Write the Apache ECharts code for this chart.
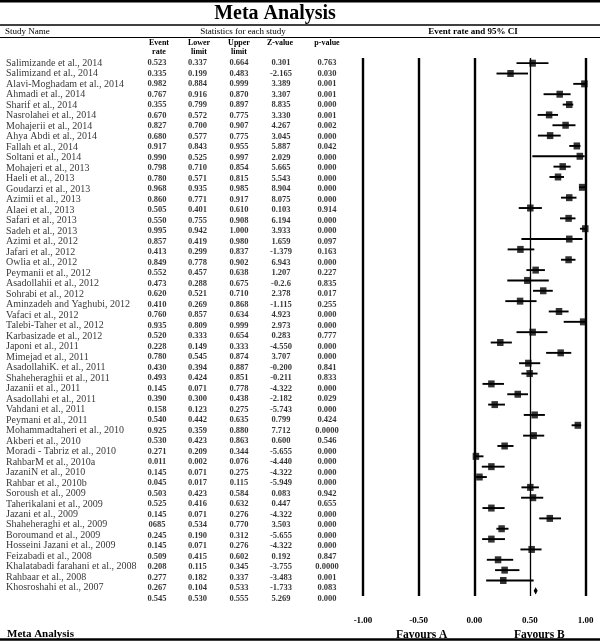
<!DOCTYPE html>
<html><head><meta charset="utf-8">
<script src="https://cdn.jsdelivr.net/npm/echarts@6/dist/echarts.min.js"></script>
<style>html,body{margin:0;padding:0;background:#fff}#c{width:600px;height:643px}</style>
</head><body><div id="c"></div>
<script>
const studies = ["Salimizande et al., 2014","Salimizand et al., 2014","Alavi-Moghadam et al., 2014","Ahmadi et al., 2014","Sharif et al., 2014","Nasrolahei et al., 2014","Mohajerii et al., 2014","Ahya Abdi et al., 2014","Fallah et al., 2014","Soltani et al., 2014","Mohajeri et al., 2013","Haeli et al., 2013","Goudarzi et al., 2013","Azimii et al., 2013","Alaei et al., 2013","Safari et al., 2013","Sadeh et al., 2013","Azimi et al., 2012","Jafari et al., 2012","Owlia et al., 2012","Peymanii et al., 2012","Asadollahii et al., 2012","Sohrabi et al., 2012","Aminzadeh and Yaghubi, 2012","Vafaci et al., 2012","Talebi-Taher et al., 2012","Karbasizade et al., 2012","Japoni et al., 2011","Mimejad et al., 2011","AsadollahiK. et al., 2011","Shaheheraghii et al., 2011","Jazanii et al., 2011","Asadollahi et al., 2011","Vahdani et al., 2011","Peymani et al., 2011","Mohammadtaheri et al., 2010","Akberi et al., 2010","Moradi - Tabriz et al., 2010","RahbarM et al., 2010a","JazaniN et al., 2010","Rahbar et al., 2010b","Soroush et al., 2009","Taherikalani et al., 2009","Jazani et al., 2009","Shaheheraghi et al., 2009","Boroumand et al., 2009","Hosseini Jazani et al., 2009","Feizabadi et al., 2008","Khalatabadi farahani et al., 2008","Rahbaar et al., 2008","Khosroshahi et al., 2007"];
// table text (last entry = overall)
const eventRateTxt = ["0.523","0.335","0.982","0.767","0.355","0.670","0.827","0.680","0.917","0.990","0.798","0.780","0.968","0.860","0.505","0.550","0.995","0.857","0.413","0.849","0.552","0.473","0.620","0.410","0.760","0.935","0.520","0.228","0.780","0.430","0.493","0.145","0.390","0.158","0.540","0.925","0.530","0.271","0.011","0.145","0.045","0.503","0.525","0.145","0685","0.245","0.145","0.509","0.208","0.277","0.267","0.545"];
const lowerTxt = ["0.337","0.199","0.884","0.916","0.799","0.572","0.700","0.577","0.843","0.525","0.710","0.571","0.935","0.771","0.401","0.755","0.942","0.419","0.299","0.778","0.457","0.288","0.521","0.269","0.857","0.809","0.333","0.149","0.545","0.394","0.424","0.071","0.300","0.123","0.442","0.359","0.423","0.209","0.002","0.071","0.017","0.423","0.416","0.071","0.534","0.190","0.071","0.415","0.115","0.182","0.104","0.530"];
const upperTxt = ["0.664","0.483","0.999","0.870","0.897","0.775","0.907","0.775","0.955","0.997","0.854","0.815","0.985","0.917","0.610","0.908","1.000","0.980","0.837","0.902","0.638","0.675","0.710","0.868","0.634","0.999","0.654","0.333","0.874","0.887","0.851","0.778","0.438","0.275","0.635","0.880","0.863","0.344","0.076","0.275","0.115","0.584","0.632","0.276","0.770","0.312","0.276","0.602","0.345","0.337","0.533","0.555"];
const zTxt = ["0.301","-2.165","3.389","3.307","8.835","3.330","4.267","3.045","5.887","2.029","5.665","5.543","8.904","8.075","0.103","6.194","3.933","1.659","-1.379","6.943","1.207","-0.2.6","2.378","-1.115","4.923","2.973","0.283","-4.550","3.707","-0.200","-0.211","-4.322","-2.182","-5.743","0.799","7.712","0.600","-5.655","-4.440","-4.322","-5.949","0.083","0.447","-4.322","3.503","-5.655","-4.322","0.192","-3.755","-3.483","-1.733","5.269"];
const pTxt = ["0.763","0.030","0.001","0.001","0.000","0.001","0.002","0.000","0.042","0.000","0.000","0.000","0.000","0.000","0.914","0.000","0.000","0.097","0.163","0.000","0.227","0.835","0.017","0.255","0.000","0.000","0.777","0.000","0.000","0.841","0.833","0.000","0.029","0.000","0.424","0.0000","0.546","0.000","0.000","0.000","0.000","0.942","0.655","0.000","0.000","0.000","0.000","0.847","0.0000","0.001","0.083","0.000"];
// plotted markers
const plotEst = [0.525,0.326,0.99,0.768,0.854,0.673,0.821,0.682,0.922,0.949,0.795,0.753,0.97,0.854,0.504,0.848,0.998,0.854,0.415,0.848,0.552,0.477,0.62,0.412,0.762,0.979,0.525,0.234,0.777,0.486,0.498,0.154,0.391,0.184,0.543,0.931,0.534,0.273,0.015,0.154,0.047,0.504,0.528,0.154,0.679,0.246,0.154,0.516,0.214,0.273,0.261];
const plotLo = [0.38,0.20,0.89,0.623,0.795,0.569,0.703,0.572,0.854,0.522,0.712,0.676,0.943,0.78,0.40,0.771,0.95,0.424,0.30,0.78,0.469,0.297,0.528,0.279,0.67,0.804,0.38,0.148,0.646,0.403,0.424,0.074,0.297,0.125,0.445,0.875,0.439,0.208,0.0,0.068,0.015,0.424,0.421,0.074,0.584,0.199,0.071,0.415,0.113,0.187,0.107];
const plotHi = [0.667,0.483,1.0,0.866,0.89,0.753,0.91,0.777,0.955,0.993,0.866,0.807,1.0,0.919,0.608,0.91,1.0,0.973,0.54,0.91,0.635,0.67,0.706,0.56,0.848,1.0,0.658,0.338,0.872,0.593,0.569,0.267,0.483,0.276,0.635,0.961,0.629,0.353,0.083,0.273,0.113,0.581,0.62,0.273,0.78,0.308,0.276,0.605,0.35,0.406,0.534];
const overall = {est:0.552, lo:0.534, hi:0.57};
const xTicks = [-1, -0.5, 0, 0.5, 1];

const FONT = "'Liberation Serif', 'DejaVu Serif', serif";
const chart = echarts.init(document.getElementById('c'), null, {renderer:'canvas'});

function textCol(arr, x, align, size, weight){
  return {
    type:'scatter', xAxisIndex:0, yAxisIndex:0, symbolSize:1, silent:true,
    itemStyle:{color:'rgba(0,0,0,0)'},
    label:{show:true, position:'inside', align:align, verticalAlign:'middle',
      formatter:p=>p.data.t, color:'#000', fontFamily:FONT, fontSize:size, fontWeight:weight},
    labelLayout:{hideOverlap:false},
    data: arr.map((t,i)=>({value:[x,i], t:t}))
  };
}

const rows = plotEst.map((e,i)=>[e,i]);
const ci = plotEst.map((e,i)=>[plotLo[i], plotHi[i], i]);

const hline = (y, w)=>({type:'line', shape:{x1:0,y1:y,x2:600,y2:y}, style:{stroke:'#000', lineWidth:w}});
const txt = (x,y,t,size,weight,align)=>({type:'text', x:x, y:y, style:{text:t, fill:'#000', font:`${weight} ${size}px ${FONT}`, textAlign:align, textVerticalAlign:'middle'}});

chart.setOption({
  animation:false,
  grid:[
    {left:0, top:58.05, width:350, height:545.5},
    {left:363, top:58, width:222.5, height:538}
  ],
  xAxis:[
    {gridIndex:0, type:'value', min:0, max:350, show:false},
    {gridIndex:1, type:'value', min:-1, max:1, interval:0.5,
      axisLine:{show:false}, axisTick:{show:false}, splitLine:{show:false},
      axisLabel:{margin:20, formatter:v=>v.toFixed(2), fontFamily:FONT, fontSize:9, fontWeight:'bold', color:'#000'}}
  ],
  yAxis:[
    {gridIndex:0, type:'value', min:-0.5, max:51.5, inverse:true, show:false},
    {gridIndex:1, type:'value', min:-0.5, max:51.5, inverse:true, show:false}
  ],
  graphic:[
    hline(1.2, 2.5),
    txt(275, 14, 'Meta Analysis', 20, 'bold', 'center'),
    hline(25, 1.5),
    txt(5, 31.5, 'Study Name', 9, 'normal', 'left'),
    txt(243, 31.5, 'Statistics for each study', 9, 'normal', 'center'),
    txt(473, 31.5, 'Event rate and 95% CI', 9, 'bold', 'center'),
    hline(37.5, 1),
    txt(159, 43.3, 'Event', 8, 'bold', 'center'),
    txt(159, 52.3, 'rate', 8, 'bold', 'center'),
    txt(199, 43.3, 'Lower', 8, 'bold', 'center'),
    txt(199, 52.3, 'limit', 8, 'bold', 'center'),
    txt(239, 43.3, 'Upper', 8, 'bold', 'center'),
    txt(239, 52.3, 'limit', 8, 'bold', 'center'),
    txt(280, 43.3, 'Z-value', 8, 'bold', 'center'),
    txt(327, 43.3, 'p-value', 8, 'bold', 'center'),
    txt(421.7, 635.5, 'Favours A', 11.5, 'bold', 'center'),
    txt(539.3, 635.5, 'Favours B', 11.5, 'bold', 'center'),
    txt(7, 634.5, 'Meta Analysis', 11, 'bold', 'left'),
    hline(639.5, 2.5)
  ],
  series:[
    textCol(studies, 6, 'left', 10, 'normal'),
    textCol(eventRateTxt, 157, 'center', 8.5, 'bold'),
    textCol(lowerTxt, 197.5, 'center', 8.5, 'bold'),
    textCol(upperTxt, 239, 'center', 8.5, 'bold'),
    textCol(zTxt, 281, 'center', 8.5, 'bold'),
    textCol(pTxt, 327, 'center', 8.5, 'bold'),
    {
      type:'custom', xAxisIndex:1, yAxisIndex:1, silent:true,
      renderItem:(params, api)=>{
        const y = api.value(2);
        const a = api.coord([api.value(0), y]);
        const b = api.coord([api.value(1), y]);
        return {type:'line', shape:{x1:a[0],y1:a[1],x2:b[0],y2:b[1]}, style:{stroke:'#000', lineWidth:1.9}};
      },
      data: ci,
      markLine:{
        silent:true, symbol:'none', label:{show:false},
        data: xTicks.map(v=>({xAxis:v, lineStyle:{color:'#000', type:'solid', width: v===0.5 ? 1.3 : 2.4}}))
      }
    },
    {
      type:'scatter', xAxisIndex:1, yAxisIndex:1, silent:true,
      symbol:'rect', symbolSize:[6.5,7], itemStyle:{color:'#000'},
      data: rows
    },
    {
      type:'custom', xAxisIndex:1, yAxisIndex:1, silent:true,
      renderItem:(params, api)=>{
        const y = api.value(3);
        const l = api.coord([api.value(1), y]);
        const c = api.coord([api.value(0), y]);
        const r = api.coord([api.value(2), y]);
        const h = 3.6;
        return {type:'polygon', shape:{points:[[l[0],l[1]],[c[0],c[1]-h],[r[0],r[1]],[c[0],c[1]+h]]}, style:{fill:'#000'}};
      },
      data:[[overall.est, overall.lo, overall.hi, 51]]
    }
  ]
});
</script></body></html>
